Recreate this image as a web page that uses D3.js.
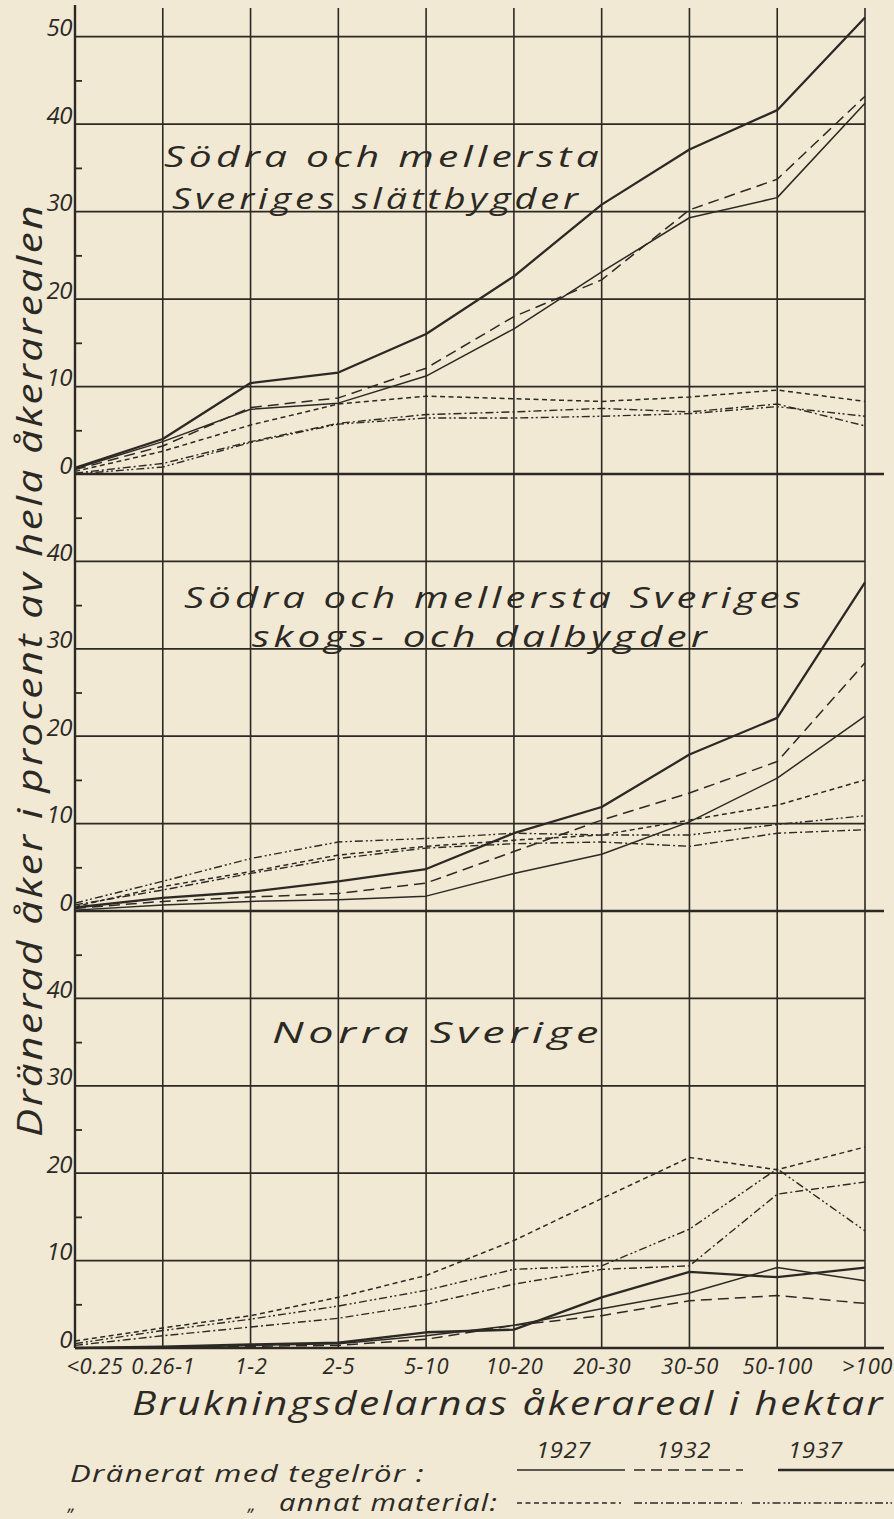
<!DOCTYPE html>
<html><head><meta charset="utf-8">
<script src="https://cdn.jsdelivr.net/npm/d3@7"></script>
<style>
html,body{margin:0;padding:0;background:#f1e9d3;}
svg{display:block;}
text{font-family:"Open Sans","Noto Sans",sans-serif;font-style:italic;fill:#2c2925;}
</style></head>
<body>
<svg id="chart" width="894" height="1519"></svg>
<script>
// ---------- DATA ----------
const categories = ["<0.25","0.26-1","1-2","2-5","5-10","10-20","20-30","30-50","50-100",">100"];
const years = ["1927","1932","1937"];
const yTicksMajor = [0,10,20,30,40,50];

// Södra och mellersta Sveriges slättbygder
const slatt_tegel_1927 = [0.6, 3.7, 7.4, 8.1, 11.2, 16.6, 23.1, 29.3, 31.6, 42.4];
const slatt_tegel_1932 = [0.5, 3.2, 7.6, 8.7, 12.1, 18.0, 22.2, 30.2, 33.7, 43.2];
const slatt_tegel_1937 = [0.7, 4.0, 10.4, 11.6, 16.0, 22.6, 30.8, 37.1, 41.6, 52.2];
const slatt_annat_1927 = [0.3, 2.6, 5.6, 8.0, 8.9, 8.6, 8.3, 8.8, 9.6, 8.3];
const slatt_annat_1932 = [0.1, 1.2, 3.7, 5.8, 6.8, 7.1, 7.5, 7.1, 8.0, 5.5];
const slatt_annat_1937 = [0.0, 0.8, 3.6, 5.7, 6.4, 6.4, 6.6, 6.9, 7.7, 6.6];

// Södra och mellersta Sveriges skogs- och dalbygder
const skog_tegel_1927 = [0.1, 0.7, 1.1, 1.3, 1.7, 4.3, 6.5, 10.2, 15.2, 22.3];
const skog_tegel_1932 = [0.3, 1.1, 1.6, 2.0, 3.2, 6.8, 10.4, 13.5, 17.1, 28.4];
const skog_tegel_1937 = [0.4, 1.5, 2.2, 3.4, 4.8, 8.9, 11.9, 17.9, 22.1, 37.6];
const skog_annat_1927 = [0.5, 2.8, 4.5, 6.4, 7.4, 8.1, 8.7, 10.4, 12.1, 15.0];
const skog_annat_1932 = [0.7, 2.4, 4.3, 6.0, 7.2, 7.7, 7.9, 7.4, 8.9, 9.3];
const skog_annat_1937 = [0.9, 3.4, 6.0, 7.9, 8.3, 8.9, 8.7, 8.7, 9.9, 10.9];

// Norra Sverige
const norr_tegel_1927 = [0.0, 0.1, 0.3, 0.5, 1.4, 2.6, 4.5, 6.3, 9.2, 7.7];
const norr_tegel_1932 = [0.0, 0.1, 0.2, 0.3, 1.0, 2.6, 3.7, 5.4, 6.0, 5.1];
const norr_tegel_1937 = [0.0, 0.15, 0.4, 0.6, 1.8, 2.1, 5.8, 8.7, 8.1, 9.2];
const norr_annat_1927 = [0.8, 2.3, 3.7, 5.8, 8.3, 12.3, 17.1, 21.8, 20.4, 23.0];
const norr_annat_1932 = [0.3, 1.4, 2.4, 3.4, 5.0, 7.3, 9.0, 9.4, 17.6, 19.0];
const norr_annat_1937 = [0.5, 2.0, 3.3, 4.8, 6.6, 9.0, 9.4, 13.6, 20.5, 13.4];

const panelTitles = [
  ["Södra och mellersta", "Sveriges slättbygder"],
  ["Södra och mellersta Sveriges", "skogs- och dalbygder"],
  ["Norra Sverige"]
];
const yTitle = "Dränerad åker i procent av hela åkerarealen";
const xTitle = "Brukningsdelarnas åkerareal i hektar";
const legendRow1 = "Dränerat med tegelrör :";
const legendRow2 = "annat material:";

// ---------- STYLES ----------
const ink = "#2c2925";
const seriesStyle = {
  tegel_1927:{w:1.5, dash:null},
  tegel_1932:{w:1.5, dash:"11,6"},
  tegel_1937:{w:2.3, dash:null},
  annat_1927:{w:1.5, dash:"5,3.5"},
  annat_1932:{w:1.4, dash:"8,3,2,3"},
  annat_1937:{w:1.4, dash:"8,3,2,2.5,2,3"}
};

const panels = [
  {top:36.7, bottom:474, maxTick:50, title:panelTitles[0],
   series:{tegel_1927:slatt_tegel_1927,tegel_1932:slatt_tegel_1932,tegel_1937:slatt_tegel_1937,
           annat_1927:slatt_annat_1927,annat_1932:slatt_annat_1932,annat_1937:slatt_annat_1937},
   titleLayout:[{x:164,y:167,len:439},{x:172,y:209,len:410}]},
  {top:474, bottom:911, maxTick:40, title:panelTitles[1],
   series:{tegel_1927:skog_tegel_1927,tegel_1932:skog_tegel_1932,tegel_1937:skog_tegel_1937,
           annat_1927:skog_annat_1927,annat_1932:skog_annat_1932,annat_1937:skog_annat_1937},
   titleLayout:[{x:184,y:608,len:621},{x:252,y:647,len:459}]},
  {top:911, bottom:1348, maxTick:40, title:panelTitles[2],
   series:{tegel_1927:norr_tegel_1927,tegel_1932:norr_tegel_1932,tegel_1937:norr_tegel_1937,
           annat_1927:norr_annat_1927,annat_1932:norr_annat_1932,annat_1937:norr_annat_1937},
   titleLayout:[{x:272,y:1043,len:331}]}
];

function stretchText(sel, size, len, spacing){
  return sel.attr("font-size",size).attr("letter-spacing",spacing)
    .attr("textLength",len).attr("lengthAdjust","spacingAndGlyphs");
}

// ---------- DRAW ----------
const svg = d3.select("#chart");
svg.append("rect").attr("width",894).attr("height",1519).attr("fill","#f1e9d3");

const x = d3.scalePoint().domain(categories).range([75, 865]);

// vertical grid lines
svg.append("g").selectAll("line").data(categories).join("line")
  .attr("x1", d=>x(d)).attr("x2", d=>x(d))
  .attr("y1", (d,i)=> i===0 ? 5 : 8).attr("y2", 1348)
  .attr("stroke", ink).attr("stroke-width", (d,i)=> i===0 ? 2.4 : 1.6);

panels.forEach(p => {
  const y = d3.scaleLinear().domain([0,50]).range([p.bottom, p.top]);
  const g = svg.append("g");
  const majors = yTicksMajor.filter(v => v <= 50);
  g.selectAll("line.h").data(majors).join("line")
    .attr("x1", x(categories[0])).attr("x2", v => v===0 ? 884 : x(categories[categories.length-1]))
    .attr("y1", v=>y(v)).attr("y2", v=>y(v))
    .attr("stroke", ink).attr("stroke-width", v => v===0 ? 2.7 : 1.8);

  const minorAxis = d3.axisRight(y).tickValues([5,15,25,35,45]).tickSize(7).tickFormat("");
  g.append("g").attr("transform",`translate(${x(categories[0])},0)`).call(minorAxis)
    .call(a=>{a.select(".domain").remove(); a.selectAll("line").attr("stroke",ink).attr("stroke-width",1.8);});

  const labAxis = d3.axisLeft(y).tickValues(yTicksMajor.filter(v=>v<=p.maxTick)).tickSize(0).tickPadding(3);
  g.append("g").attr("transform",`translate(${x(categories[0])},0)`).call(labAxis)
    .call(a=>{a.select(".domain").remove();
      a.selectAll("text").attr("dy","-1").attr("font-size",24).attr("font-family",null).attr("fill",ink)
       .attr("letter-spacing",-0.5);});

  const line = d3.line().x((d,i)=>x(categories[i])).y(d=>y(d));
  Object.entries(p.series).forEach(([k,vals]) => {
    const s = seriesStyle[k];
    g.append("path").datum(vals).attr("d", line)
      .attr("fill","none").attr("stroke",ink).attr("stroke-width",s.w)
      .attr("stroke-dasharray", s.dash).attr("stroke-linejoin","round");
  });

  p.title.forEach((t,i) => {
    const L = p.titleLayout[i];
    stretchText(g.append("text").attr("x",L.x).attr("y",L.y).text(t), 29, L.len, 3);
  });
});

// x tick labels
const xAxis = d3.axisBottom(x).tickSize(0).tickPadding(0);
svg.append("g").attr("transform","translate(0,1348)").call(xAxis)
  .call(a=>{a.select(".domain").remove();
    a.selectAll("text").attr("dy","0").attr("y",26).attr("font-size",22).attr("font-family",null)
      .attr("fill",ink).attr("letter-spacing",0.5)
      .attr("text-anchor",(d,i)=> i===0 ? "start" : "middle")
      .attr("x",(d,i)=> i===0 ? -9 : (i===categories.length-1 ? 2 : 0));});

// x title
stretchText(svg.append("text").attr("x",132).attr("y",1415).text(xTitle), 32, 753, 2);

// y title
stretchText(svg.append("text").attr("transform","translate(42,670) rotate(-90)")
  .attr("text-anchor","middle").text(yTitle), 34, 934, 2);

// legend
const legRow1X = [[517,625],[634,743],[778,894]];
const legRow2X = [[517,621],[634,742],[752,892]];
const legLabelX = [563,683,815];
const leg = svg.append("g");
stretchText(leg.append("text").attr("x",70).attr("y",1482).text(legendRow1), 23, 355, 1);
leg.append("text").attr("x",68).attr("y",1511).text("„").attr("font-size",18);
leg.append("text").attr("x",248).attr("y",1511).text("„").attr("font-size",18);
stretchText(leg.append("text").attr("x",279).attr("y",1511).text(legendRow2), 23, 219, 1);
years.forEach((yr,i)=>{
  stretchText(leg.append("text").attr("x",legLabelX[i]-27).attr("y",1458).text(yr), 22, 55, 0.5);
  const st = seriesStyle["tegel_"+yr], sa = seriesStyle["annat_"+yr];
  leg.append("line").attr("x1",legRow1X[i][0]).attr("x2",legRow1X[i][1]).attr("y1",1470).attr("y2",1470)
    .attr("stroke",ink).attr("stroke-width",st.w).attr("stroke-dasharray",st.dash);
  leg.append("line").attr("x1",legRow2X[i][0]).attr("x2",legRow2X[i][1]).attr("y1",1503).attr("y2",1503)
    .attr("stroke",ink).attr("stroke-width",sa.w).attr("stroke-dasharray",sa.dash);
});
</script>
</body></html>
